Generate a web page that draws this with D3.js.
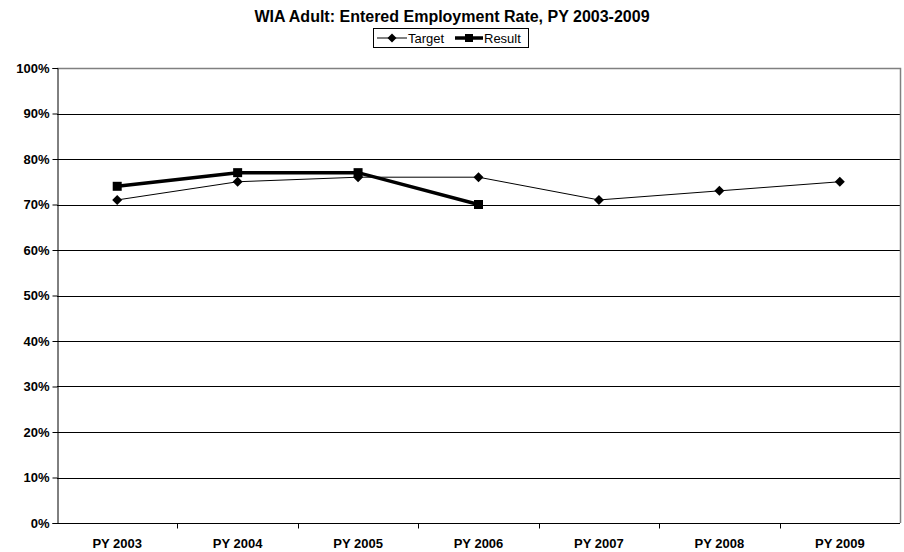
<!DOCTYPE html>
<html>
<head>
<meta charset="utf-8">
<script src="https://cdn.jsdelivr.net/npm/d3@7"></script>
<style>
  body { margin: 0; background: #fff; }
  text { font-family: "Liberation Sans", Arial, sans-serif; }
</style>
</head>
<body>
<svg width="904" height="552"></svg>
<script>
const years = ["PY 2003", "PY 2004", "PY 2005", "PY 2006", "PY 2007", "PY 2008", "PY 2009"];
const target = [0.71, 0.75, 0.76, 0.76, 0.71, 0.73, 0.75];
const result = [0.74, 0.77, 0.77, 0.70];
const yTicks = [0, 0.1, 0.2, 0.3, 0.4, 0.5, 0.6, 0.7, 0.8, 0.9, 1.0];

const svg = d3.select("svg");
const mLeft = 57, mRight = 900, mTop = 68, mBottom = 523;

const x = d3.scaleBand().domain(years).range([mLeft, mRight]);
const y = d3.scaleLinear().domain([0, 1]).range([mBottom, mTop]);

// title
svg.append("text")
  .attr("x", 452).attr("y", 22)
  .attr("text-anchor", "middle")
  .style("font-size", "16px").style("font-weight", "bold")
  .text("WIA Adult: Entered Employment Rate, PY 2003-2009");

// gridlines
svg.append("g").selectAll("line")
  .data(yTicks.filter(d => d > 0 && d < 1))
  .join("line")
  .attr("x1", mLeft).attr("x2", mRight)
  .attr("y1", d => Math.round(y(d)) + 0.5).attr("y2", d => Math.round(y(d)) + 0.5)
  .attr("stroke", "#000").attr("stroke-width", 1);

// plot border (top/right)
svg.append("path")
  .attr("d", `M${mLeft},${mTop + 0.5}H${mRight + 0.5}V${mBottom}`)
  .attr("fill", "none").attr("stroke", "#808080").attr("stroke-width", 1.5);

// y axis
const yAxis = svg.append("g")
  .attr("transform", `translate(${mLeft + 0.5},0)`)
  .call(d3.axisLeft(y).tickValues(yTicks).tickFormat(d3.format(".0%")).tickSize(5).tickPadding(3));
yAxis.select(".domain").attr("stroke", "#000");
yAxis.selectAll("text").style("font-size", "13px").style("font-weight", "bold")
  .style("font-family", "'Liberation Sans', Arial, sans-serif").attr("fill", "#000");

// x axis
const xAxis = svg.append("g")
  .attr("transform", `translate(0,${mBottom + 0.5})`)
  .call(d3.axisBottom(x).tickSize(0).tickPadding(15));
xAxis.select(".domain").attr("stroke", "#000").attr("d", `M${mLeft},0H${mRight}`);
xAxis.selectAll("text").style("font-size", "13px").style("font-weight", "bold")
  .style("font-family", "'Liberation Sans', Arial, sans-serif").attr("fill", "#000");
xAxis.selectAll(".tick line").remove();
xAxis.append("g").selectAll("line")
  .data(years.slice(1))
  .join("line")
  .attr("x1", d => Math.round(x(d)) + 0.5).attr("x2", d => Math.round(x(d)) + 0.5)
  .attr("y1", 0).attr("y2", 5)
  .attr("stroke", "#000");

const cx = (d, i) => x(years[i]) + x.bandwidth() / 2;
const line = d3.line().x(cx).y(d => y(d));

// Target
svg.append("path").datum(target)
  .attr("d", line).attr("fill", "none").attr("stroke", "#000").attr("stroke-width", 1);
svg.append("g").selectAll("path")
  .data(target).join("path")
  .attr("transform", (d, i) => `translate(${cx(d, i)},${y(d)})`)
  .attr("d", "M0,-5L5,0L0,5L-5,0Z").attr("fill", "#000");

// Result
svg.append("path").datum(result)
  .attr("d", line).attr("fill", "none").attr("stroke", "#000").attr("stroke-width", 3.5);
svg.append("g").selectAll("rect")
  .data(result).join("rect")
  .attr("x", (d, i) => cx(d, i) - 4.5).attr("y", d => y(d) - 4.5)
  .attr("width", 9).attr("height", 9).attr("fill", "#000");

// legend
const lg = svg.append("g");
lg.append("rect").attr("x", 373.5).attr("y", 28.5).attr("width", 155).attr("height", 19)
  .attr("fill", "#fff").attr("stroke", "#000");
lg.append("line").attr("x1", 377).attr("x2", 407).attr("y1", 38).attr("y2", 38)
  .attr("stroke", "#000").attr("stroke-width", 1);
lg.append("path").attr("transform", "translate(392,38)").attr("d", "M0,-4.5L4.5,0L0,4.5L-4.5,0Z").attr("fill", "#000");
lg.append("text").attr("x", 408).attr("y", 42.5).style("font-size", "13px").text("Target");
lg.append("line").attr("x1", 455).attr("x2", 483).attr("y1", 38).attr("y2", 38)
  .attr("stroke", "#000").attr("stroke-width", 3.5);
lg.append("rect").attr("x", 465).attr("y", 34).attr("width", 8).attr("height", 8).attr("fill", "#000");
lg.append("text").attr("x", 484).attr("y", 42.5).style("font-size", "13px").text("Result");
</script>
</body>
</html>
